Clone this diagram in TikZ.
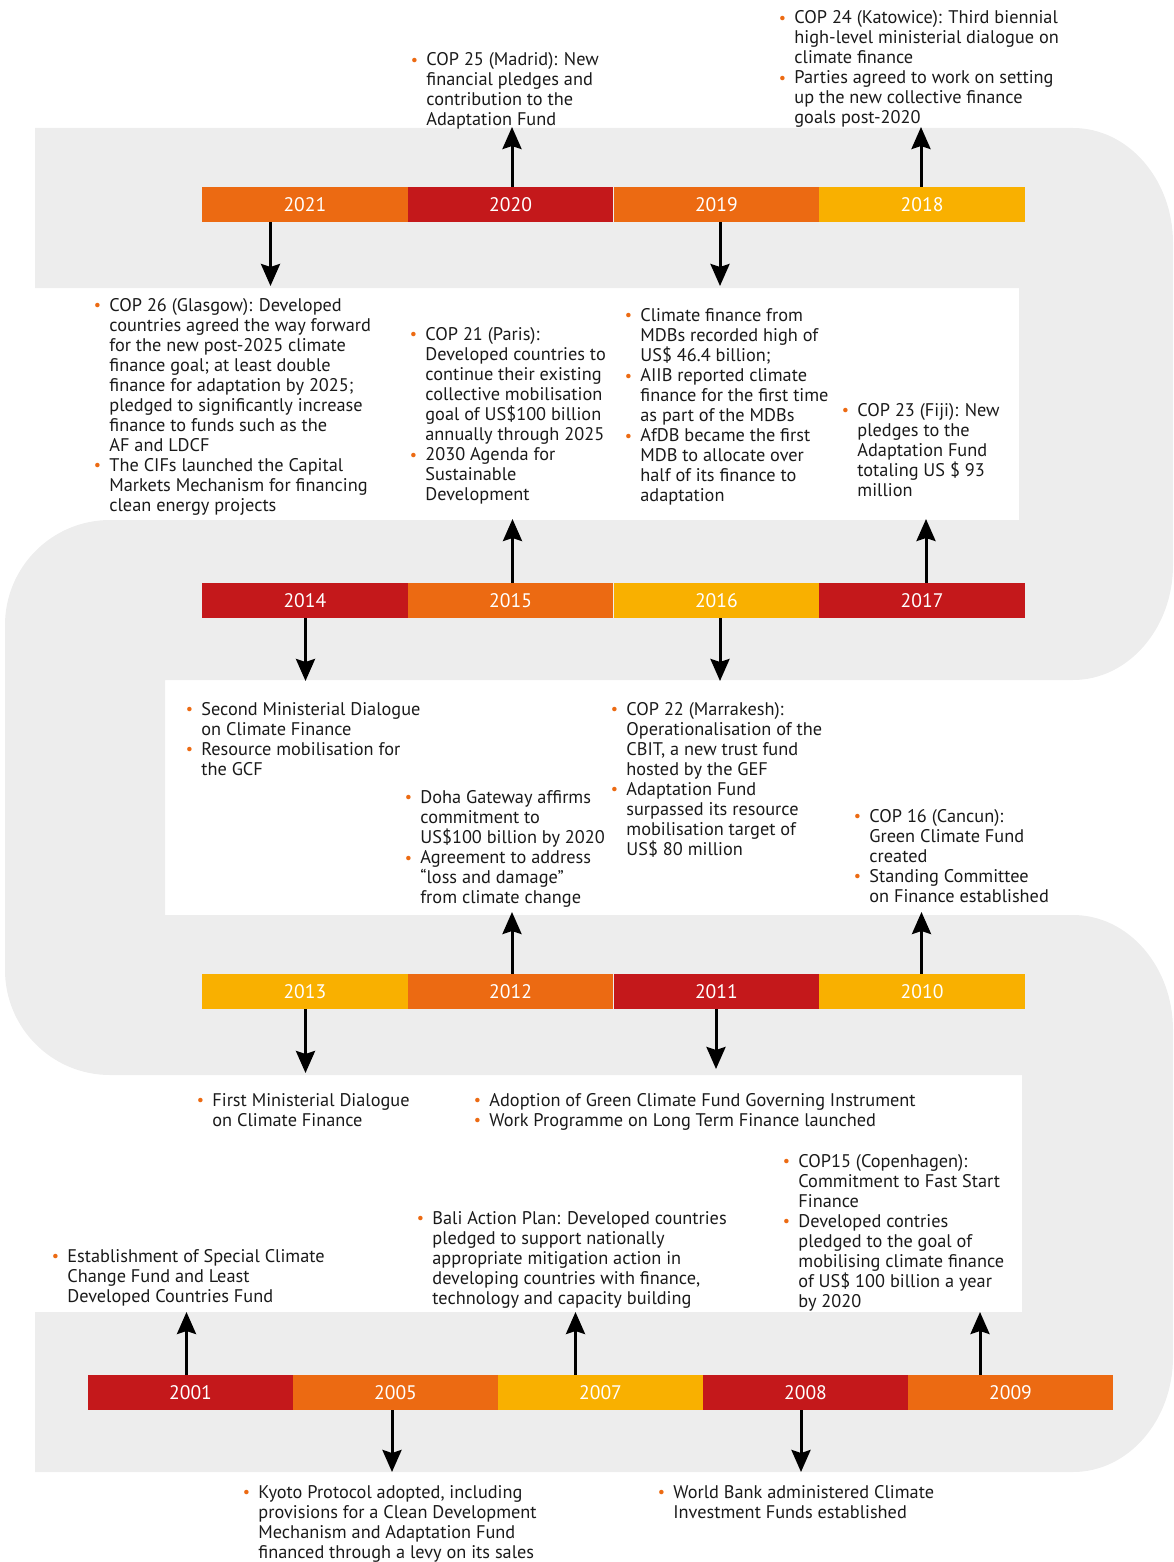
\documentclass[tikz,border=0pt]{standalone}
\usepackage{fontspec}
\setmainfont{PT Sans}
\usetikzlibrary{arrows.meta}

\definecolor{corange}{HTML}{EC6A12}
\definecolor{cred}{HTML}{C4181B}
\definecolor{camber}{HTML}{F9B000}
\definecolor{cband}{HTML}{EDEDED}
\definecolor{ctext}{HTML}{1A1A1A}

% orange bullet hanging to the left of a line
\newcommand\bl{\llap{\makebox[12pt][c]{\textcolor{corange}{\raisebox{0.3pt}{\fontsize{8}{8}\selectfont\textbullet}}}}}
% a block of explicitly broken lines, baseline on the first line
\newcommand\lines[1]{\begin{tabular}[t]{@{}l@{}}#1\end{tabular}}

\tikzset{
  bar/.style={minimum height=17.5pt, inner sep=0pt, text=white,
              font=\fontsize{9.8}{10}\selectfont},
  wA/.style={bar, minimum width=102.875pt},
  wD/.style={bar, minimum width=102.5pt},
  note/.style={anchor=base west, inner sep=0pt, text=ctext,
               font=\fontsize{9.15}{10}\selectfont},
  arr/.style={line width=1.5pt, -{Stealth[length=11pt,width=9.5pt,inset=1.5pt]}},
}

\begin{document}
\begin{tikzpicture}[x=0.5pt,y=-0.5pt]
\useasboundingbox (0,0) rectangle (1173,1562);

% serpentine background band
\fill[cband]
  (35,128) -- (1073,128) arc[start angle=-90,end angle=0,x radius=100,y radius=115]
  -- (1173,565) arc[start angle=0,end angle=90,x radius=100,y radius=115]
  -- (165,680) -- (165,915) -- (1073,915)
  arc[start angle=-90,end angle=0,x radius=100,y radius=115]
  -- (1173,1357) arc[start angle=0,end angle=90,x radius=100,y radius=115]
  -- (35,1472) -- (35,1312) -- (1022,1312) -- (1022,1075) -- (110,1075)
  arc[start angle=90,end angle=180,radius=105]
  -- (5,625) arc[start angle=180,end angle=270,radius=105]
  -- (1019,520) -- (1019,288) -- (35,288) -- cycle;

% year bars, row 1
\node[wA, fill=corange] (b2021) at (304.9,204.5) {2021};
\node[wA, fill=cred]    (b2020) at (510.6,204.5) {2020};
\node[wA, fill=corange] (b2019) at (716.4,204.5) {2019};
\node[wA, fill=camber]  (b2018) at (922.1,204.5) {2018};
% row 2
\node[wA, fill=cred]    (b2014) at (304.9,600.5) {2014};
\node[wA, fill=corange] (b2015) at (510.6,600.5) {2015};
\node[wA, fill=camber]  (b2016) at (716.4,600.5) {2016};
\node[wA, fill=cred]    (b2017) at (922.1,600.5) {2017};
% row 3
\node[wA, fill=camber]  (b2013) at (304.9,991.5) {2013};
\node[wA, fill=corange] (b2012) at (510.6,991.5) {2012};
\node[wA, fill=cred]    (b2011) at (716.4,991.5) {2011};
\node[wA, fill=camber]  (b2010) at (922.1,991.5) {2010};
% row 4
\node[wD, fill=cred]    (b2001) at (190.5,1392.5) {2001};
\node[wD, fill=corange] (b2005) at (395.5,1392.5) {2005};
\node[wD, fill=camber]  (b2007) at (600.5,1392.5) {2007};
\node[wD, fill=cred]    (b2008) at (805.5,1392.5) {2008};
\node[wD, fill=corange] (b2009) at (1010.5,1392.5) {2009};

% event notes
\node[note] (n2018) at (794,24) {\lines{\bl COP 24 (Katowice): Third biennial\\ high-level ministerial dialogue on\\ climate finance\\ \bl Parties agreed to work on setting\\ up the new collective finance\\ goals post-2020}};
\node[note] (n2020) at (426,66) {\lines{\bl COP 25 (Madrid): New\\ financial pledges and\\ contribution to the\\ Adaptation Fund}};
\node[note] (n2021) at (109,311) {\lines{\bl COP 26 (Glasgow): Developed\\ countries agreed the way forward\\ for the new post-2025 climate\\ finance goal; at least double\\ finance for adaptation by 2025;\\ pledged to significantly increase\\ finance to funds such as the\\ AF and LDCF\\ \bl The CIFs launched the Capital\\ Markets Mechanism for financing\\ clean energy projects}};
\node[note] (n2015) at (425,340) {\lines{\bl COP 21 (Paris):\\ Developed countries to\\ continue their existing\\ collective mobilisation\\ goal of US\$100 billion\\ annually through 2025\\ \bl 2030 Agenda for\\ Sustainable\\ Development}};
\node[note] (n2019) at (640,321) {\lines{\bl Climate finance from\\ MDBs recorded high of\\ US\$ 46.4 billion;\\ \bl AIIB reported climate\\ finance for the first time\\ as part of the MDBs\\ \bl AfDB became the first\\ MDB to allocate over\\ half of its finance to\\ adaptation}};
\node[note] (n2017) at (857,416) {\lines{\bl COP 23 (Fiji): New\\ pledges to the\\ Adaptation Fund\\ totaling US \$ 93\\ million}};
\node[note] (n2014) at (201,715) {\lines{\bl Second Ministerial Dialogue\\ on Climate Finance\\ \bl Resource mobilisation for\\ the GCF}};
\node[note] (n2012) at (420,803) {\lines{\bl Doha Gateway affirms\\ commitment to\\ US\$100 billion by 2020\\ \bl Agreement to address\\ “loss and damage”\\ from climate change}};
\node[note] (n2016) at (626,715) {\lines{\bl COP 22 (Marrakesh):\\ Operationalisation of the\\ CBIT, a new trust fund\\ hosted by the GEF\\ \bl Adaptation Fund\\ surpassed its resource\\ mobilisation target of\\ US\$ 80 million}};
\node[note] (n2010) at (869,822) {\lines{\bl COP 16 (Cancun):\\ Green Climate Fund\\ created\\ \bl Standing Committee\\ on Finance established}};
\node[note] (n2013) at (212,1106) {\lines{\bl First Ministerial Dialogue\\ on Climate Finance}};
\node[note] (n2011) at (489,1106) {\lines{\bl Adoption of Green Climate Fund Governing Instrument\\ \bl Work Programme on Long Term Finance launched}};
\node[note] (n2009) at (798,1167) {\lines{\bl COP15 (Copenhagen):\\ Commitment to Fast Start\\ Finance\\ \bl Developed contries\\ pledged to the goal of\\ mobilising climate finance\\ of US\$ 100 billion a year\\ by 2020}};
\node[note] (n2007) at (432,1224) {\lines{\bl Bali Action Plan: Developed countries\\ pledged to support nationally\\ appropriate mitigation action in\\ developing countries with finance,\\ technology and capacity building}};
\node[note] (n2001) at (67,1262) {\lines{\bl Establishment of Special Climate\\ Change Fund and Least\\ Developed Countries Fund}};
\node[note] (n2005) at (258,1498) {\lines{\bl Kyoto Protocol adopted, including\\ provisions for a Clean Development\\ Mechanism and Adaptation Fund\\ financed through a levy on its sales}};
\node[note] (n2008) at (673,1498) {\lines{\bl World Bank administered Climate\\ Investment Funds established}};

% arrow tips, on the edges of the band
\coordinate (t2021) at (270.5,286);
\coordinate (t2020) at (512,127);
\coordinate (t2019) at (720,286);
\coordinate (t2018) at (921,127);
\coordinate (t2014) at (305.5,681);
\coordinate (t2015) at (512.5,519);
\coordinate (t2016) at (720,681);
\coordinate (t2017) at (926,519);
\coordinate (t2013) at (305.5,1073);
\coordinate (t2012) at (512,912);
\coordinate (t2011) at (716,1069);
\coordinate (t2010) at (921.5,912);
\coordinate (t2001) at (186.5,1312);
\coordinate (t2005) at (392,1472);
\coordinate (t2007) at (575.5,1312);
\coordinate (t2008) at (801,1472);
\coordinate (t2009) at (980,1312);

% connectors from the year bars
\draw[arr] (b2021.south -| t2021) -- (t2021);
\draw[arr] (b2020.north -| t2020) -- (t2020);
\draw[arr] (b2019.south -| t2019) -- (t2019);
\draw[arr] (b2018.north -| t2018) -- (t2018);
\draw[arr] (b2014.south -| t2014) -- (t2014);
\draw[arr] (b2015.north -| t2015) -- (t2015);
\draw[arr] (b2016.south -| t2016) -- (t2016);
\draw[arr] (b2017.north -| t2017) -- (t2017);
\draw[arr] (b2013.south -| t2013) -- (t2013);
\draw[arr] (b2012.north -| t2012) -- (t2012);
\draw[arr] (b2011.south -| t2011) -- (t2011);
\draw[arr] (b2010.north -| t2010) -- (t2010);
\draw[arr] (b2001.north -| t2001) -- (t2001);
\draw[arr] (b2005.south -| t2005) -- (t2005);
\draw[arr] (b2007.north -| t2007) -- (t2007);
\draw[arr] (b2008.south -| t2008) -- (t2008);
\draw[arr] (b2009.north -| t2009) -- (t2009);
\end{tikzpicture}
\end{document}
